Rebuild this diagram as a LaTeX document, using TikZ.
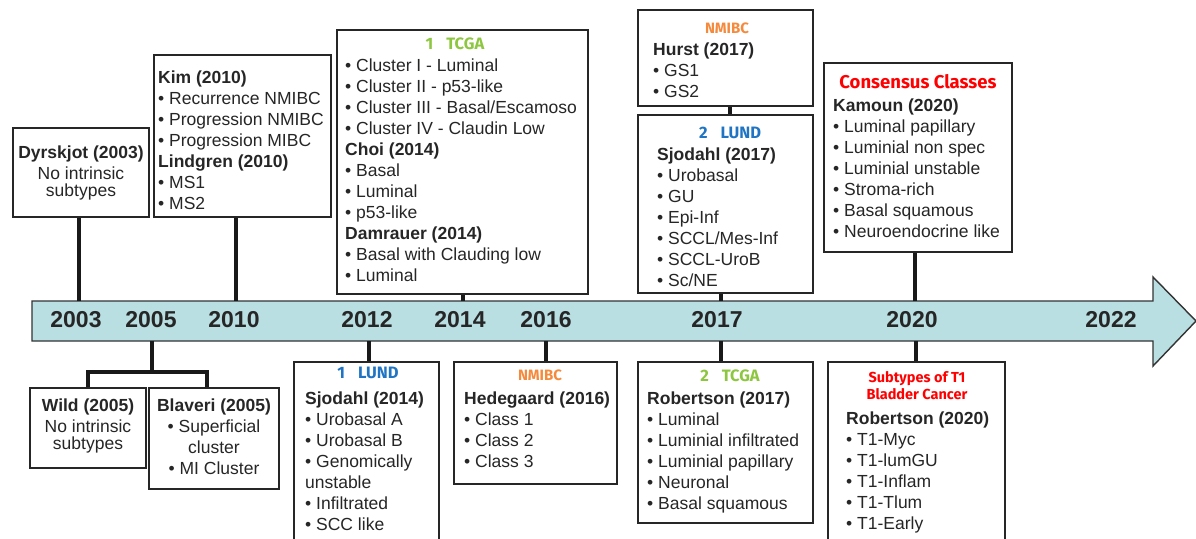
\documentclass[tikz,border=0pt]{standalone}
\usepackage{fontspec}
\setmainfont{Liberation Sans}
\newfontfamily\hdfont{Fira Sans}
\usetikzlibrary{fit}
\definecolor{bandfill}{HTML}{B9DFE3}
\definecolor{tcgagreen}{HTML}{8DC63F}
\definecolor{nmibcorange}{HTML}{F58A3D}
\definecolor{lundblue}{HTML}{1F74C4}
\definecolor{consred}{HTML}{FF0000}
\newcommand{\fl}{\rule{0pt}{13pt}}
\newcommand{\hfl}{\rule{0pt}{10pt}}
\begin{document}
\begin{tikzpicture}[x=1pt,y=-1pt,
  box/.style={draw=black!85, line width=1.6pt, inner sep=0pt, fill=white},
  txt/.style={inner sep=0pt, font=\fontsize{17.5}{21}\selectfont, text=black!85},
  ltxt/.style={txt, align=left, anchor=north west},
  ctxt/.style={txt, align=center, anchor=north},
  hdr/.style={inner sep=0pt, anchor=base, font=\hdfont\bfseries\fontsize{16.5}{19}\selectfont},
  nhdr/.style={hdr, font=\hdfont\bfseries\fontsize{15}{18}\selectfont},
  yr/.style={inner sep=0pt, font=\fontsize{23}{23}\selectfont\bfseries, text=black!85},
  stem/.style={line width=3.5pt, black!90},
  band/.style={draw=black!80, line width=1.4pt, fill=bandfill}
]
\useasboundingbox (0,0) rectangle (1196,538);
\clip (0,0) rectangle (1196,538);

% timeline arrow
\draw[band] (32,301) -- (1153,301) -- (1153,277) -- (1196,321) -- (1153,366) -- (1153,341) -- (32,341) -- cycle;

% years
\node[yr] (y2003) at (76,320) {2003};
\node[yr] (y2005) at (151,320) {2005};
\node[yr] (y2010) at (234,320) {2010};
\node[yr] (y2012) at (367,320) {2012};
\node[yr] (y2014) at (460,320) {2014};
\node[yr] (y2016) at (546,320) {2016};
\node[yr] (y2017) at (717,320) {2017};
\node[yr] (y2020) at (912,320) {2020};
\node[yr] (y2022) at (1111,320) {2022};

% ---------- upper boxes ----------
\node[box, fit={(13,128) (149,217)}] (dyr) {};
\node[ctxt] (dyrt) at (81,145) {\fl\textbf{Dyrskjot (2003)}\\No intrinsic\\[-4pt]subtypes};

\node[box, fit={(154,55) (331,217)}] (kim) {};
\node[ltxt] (kimt) at (158,70) {\fl\textbf{Kim (2010)}\\• Recurrence NMIBC\\• Progression NMIBC\\• Progression MIBC\\\textbf{Lindgren (2010)}\\• MS1\\• MS2};

\node[box, fit={(337,30) (588,294)}] (tcga) {};
\node[hdr, text=tcgagreen] (tcgah) at (455,49) {1\hspace{13pt}TCGA};
\node[ltxt] (tcgat) at (345,58) {\fl• Cluster I - Luminal\\• Cluster II - p53-like\\• Cluster III - Basal/Escamoso\\• Cluster IV - Claudin Low\\\textbf{Choi (2014)}\\• Basal\\• Luminal\\• p53-like\\\textbf{Damrauer (2014)}\\• Basal with Clauding low\\• Luminal};

\node[box, fit={(638,10) (813,106)}] (hurst) {};
\node[nhdr, text=nmibcorange] (hursth) at (727,33) {NMIBC};
\node[ltxt] (hurstt) at (653,42) {\fl\textbf{Hurst (2017)}\\• GS1\\• GS2};

\node[box, fit={(638,115) (813,293)}] (lund2) {};
\node[hdr, text=lundblue] (lund2h) at (730,138) {2\hspace{13pt}LUND};
\node[ltxt] (lund2t) at (657,147) {\fl\textbf{Sjodahl (2017)}\\• Urobasal\\• GU\\• Epi-Inf\\• SCCL/Mes-Inf\\• SCCL-UroB\\• Sc/NE};

\node[box, fit={(824,63) (1012,252)}] (kam) {};
\node[hdr, text=consred, font=\hdfont\bfseries\fontsize{18.5}{21}\selectfont] (kamh) at (918,88.5) {Consensus Classes};
\node[ltxt] (kamt) at (833,98) {\fl\textbf{Kamoun (2020)}\\• Luminal papillary\\• Luminial non spec\\• Luminial unstable\\• Stroma-rich\\• Basal squamous\\• Neuroendocrine like};

% ---------- lower boxes ----------
\node[box, fit={(30,388) (146,468)}] (wild) {};
\node[ctxt] (wildt) at (88,398) {\fl\textbf{Wild (2005)}\\No intrinsic\\[-4pt]subtypes};

\node[box, fit={(149,388) (279,489)}] (blav) {};
\node[ctxt] (blavt) at (214,398) {\fl\textbf{Blaveri (2005)}\\• Superficial\\cluster\\• MI Cluster};

\node[box, fit={(294,362) (439,560)}] (lund1) {};
\node[hdr, text=lundblue] (lund1h) at (368,378) {1\hspace{13pt}LUND};
\node[ltxt] (lund1t) at (305,391) {\fl\textbf{Sjodahl (2014)}\\• Urobasal A\\• Urobasal B\\• Genomically\\unstable\\• Infiltrated\\• SCC like};

\node[box, fit={(454,362) (617,484)}] (hede) {};
\node[nhdr, text=nmibcorange] (hedeh) at (540,380.5) {NMIBC};
\node[ltxt] (hedet) at (464,391) {\fl\textbf{Hedegaard (2016)}\\• Class 1\\• Class 2\\• Class 3};

\node[box, fit={(638,362) (813,523)}] (rob17) {};
\node[hdr, text=tcgagreen] (rob17h) at (730,381) {2\hspace{13pt}TCGA};
\node[ltxt] (rob17t) at (647,391) {\fl\textbf{Robertson (2017)}\\• Luminal\\• Luminial infiltrated\\• Luminial papillary\\• Neuronal\\• Basal squamous};

\node[box, fit={(828,362) (1005,560)}] (rob20) {};
\node[inner sep=0pt, anchor=north, align=center, text=consred, font=\hdfont\bfseries\fontsize{14.5}{17}\selectfont] (rob20h) at (917,371) {\hfl Subtypes of T1\\Bladder Cancer};
\node[ltxt] (rob20t) at (846,411) {\fl\textbf{Robertson (2020)}\\• T1-Myc\\• T1-lumGU\\• T1-Inflam\\• T1-Tlum\\• T1-Early};

% ---------- stems ----------
\coordinate (s2003) at (79,301);
\coordinate (s2010) at (236,301);
\coordinate (s2014) at (463,301);
\coordinate (s2017u) at (721,301);
\coordinate (s2020u) at (915,301);
\draw[stem] (s2003) -- (s2003 |- dyr.south);
\draw[stem] (s2010) -- (s2010 |- kim.south);
\draw[stem] (s2014) -- (s2014 |- tcga.south);
\draw[stem] (s2017u) -- (s2017u |- lund2.south);
\draw[stem] (s2020u) -- (s2020u |- kam.south);
\coordinate (hl) at (730,0);
\draw[stem] (hl |- hurst.south) -- (hl |- lund2.north);

\coordinate (s2005) at (152,341);
\coordinate (j2005) at (152,372);
\draw[stem] (s2005) -- (j2005);
\draw[stem] (wild.north -| 88,0) -- (88,372) -- (207,372) -- (blav.north -| 207,0);
\coordinate (s2012) at (369,341);
\coordinate (s2016) at (546,341);
\coordinate (s2017d) at (721,341);
\coordinate (s2020d) at (916,341);
\draw[stem] (s2012) -- (s2012 |- lund1.north);
\draw[stem] (s2016) -- (s2016 |- hede.north);
\draw[stem] (s2017d) -- (s2017d |- rob17.north);
\draw[stem] (s2020d) -- (s2020d |- rob20.north);
\end{tikzpicture}
\end{document}
